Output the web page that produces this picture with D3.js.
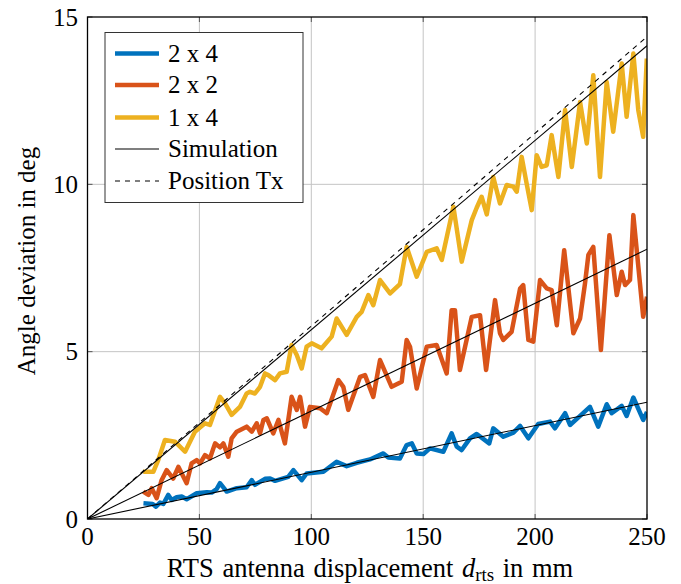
<!DOCTYPE html>
<html><head><meta charset="utf-8">
<script src="https://cdn.jsdelivr.net/npm/d3@7"></script>
<style>body{margin:0;background:#fff}</style>
</head><body><svg id="c" width="681" height="584" font-family="'Liberation Serif', 'DejaVu Serif', serif"></svg>
<script>
const xTicks=[0,50,100,150,200,250];
const yTicks=[0,5,10,15];
const seriesNames=["2 x 4","2 x 2","1 x 4"];
const seriesColors=["#0072BD","#D95319","#EDB120"];
const x24=[25,29.1,30.6,32.4,33.9,36.1,37.6,39.8,42.1,44.3,48.8,53.3,55.5,57.7,59.2,62.2,66.7,71.1,73.4,74.8,79.3,81.6,83.8,89.7,92.0,95.7,97.9,105.4,111.3,115.8,120.3,126.2,132.2,134.4,139.6,142.6,144.9,147.1,150.1,153.0,159.0,162.7,165.0,167.2,170.9,173.9,179.5,181.3,185.8,190.3,193.3,197.0,201.4,206.7,208.9,213.4,215.6,220.1,224.5,228.2,232.0,234.2,238.7,240.9,243.9,248.3,250];
const y24=[0.47,0.45,0.37,0.49,0.45,0.72,0.57,0.65,0.67,0.59,0.77,0.80,0.79,0.89,1.07,0.82,0.92,0.95,1.16,1.02,1.20,1.21,1.14,1.26,1.46,1.16,1.36,1.41,1.71,1.58,1.68,1.78,1.96,1.84,1.81,2.21,2.26,1.96,1.94,2.11,2.01,2.56,2.16,2.06,2.41,2.54,2.26,2.71,2.46,2.58,2.78,2.41,2.84,2.91,2.71,3.16,2.81,3.08,3.35,2.76,3.43,3.16,3.38,3.08,3.63,2.96,3.2];
const x22=[24.9,27.2,28.7,30.9,33.1,35.4,38.3,40.6,44.3,46.5,48.8,50.3,52.5,54.7,57.0,59.2,60.7,62.9,64.4,66.7,71.1,73.4,75.6,77.1,78.6,80.1,83.0,85.3,88.2,91.2,93.5,95.0,97.2,99.4,103.9,106.9,112.1,114.3,116.5,121.8,124.0,127.7,130.7,135.9,140.4,142.6,144.1,147.1,151.6,156.0,160.5,162.7,164.2,166.4,171.7,175.4,178.1,182.1,184.3,185.8,189.5,193.3,194.7,197.0,199.2,202.2,205.2,207.4,209.7,213.0,217.1,220.1,222.3,223.8,226.0,229.4,233.2,236.5,238.7,240.2,242.4,243.9,248.3,250];
const y22=[0.82,0.72,0.92,0.62,1.16,1.46,1.21,1.56,1.07,1.66,1.76,1.66,1.91,1.81,2.26,2.14,2.26,1.86,2.41,2.61,2.76,2.61,2.86,2.56,2.96,3.01,2.56,2.96,2.26,3.65,3.26,3.65,2.76,3.35,3.31,3.16,4.15,3.95,3.26,4.25,4.30,3.65,4.75,3.95,4.10,5.35,5.15,3.90,5.15,5.20,4.35,6.24,6.24,4.45,6.04,6.09,4.45,6.54,5.55,5.35,5.59,6.89,6.99,5.35,5.30,7.14,6.89,6.84,5.79,8.03,5.55,5.99,7.04,7.89,8.13,5.05,8.48,6.69,7.39,6.99,7.14,9.08,6.04,6.64];
const x14=[24.9,29.4,31.6,34.6,39.1,43.6,48.0,52.5,54.7,59.2,61.4,64.4,68.1,71.1,72.6,74.8,77.1,79.3,80.8,83.8,86.0,89.0,91.2,93.5,95.7,97.9,100.2,104.6,109.1,111.3,115.8,120.3,122.5,125.5,127.7,130.7,135.2,139.6,142.6,147.1,151.6,156.0,158.3,163.5,167.2,171.7,173.9,176.1,178.4,181.3,184.3,187.3,190.3,191.8,194.0,196.2,198.5,200.7,202.9,205.2,207.4,210.4,213.4,216.4,220.1,223.1,226.0,229.0,232.0,234.9,238.7,240.9,243.9,246.1,248.3,249.9];
const y14=[1.41,1.41,1.76,2.36,2.31,2.01,2.61,2.86,2.81,3.65,3.46,3.11,3.35,3.75,3.80,3.75,3.95,4.35,4.30,4.15,4.35,4.40,5.20,4.90,4.50,5.15,5.25,5.10,5.45,5.99,5.50,6.04,6.19,6.69,6.39,7.14,6.74,7.02,8.13,7.24,7.98,8.09,7.74,9.33,7.69,8.93,9.3,9.63,9.1,10.22,9.43,9.98,9.93,9.78,10.82,10.03,9.23,10.87,10.52,10.57,11.47,10.22,12.22,10.52,12.46,11.22,13.26,10.22,13.06,11.57,13.61,12.02,13.91,12.22,11.42,13.76];
const simX=[0,250];
const sim24=[0,3.49];
const sim22=[0,8.06];
const sim14=[0,14.14];
const posTx=[0,14.41];

const svg=d3.select("#c");
const FONT="'Liberation Serif', 'DejaVu Serif', serif";
const L=87.5,R=647,T=17,B=519;
const xs=d3.scaleLinear().domain([0,250]).range([L,R]);
const ys=d3.scaleLinear().domain([0,15]).range([B,T]);
const g=svg.append("g");
g.selectAll(".gx").data(xTicks.slice(1,-1)).enter().append("line").attr("x1",d=>xs(d)).attr("x2",d=>xs(d)).attr("y1",T).attr("y2",B).attr("stroke","#c4c4c4").attr("stroke-width",1);
g.selectAll(".gy").data(yTicks.slice(1,-1)).enter().append("line").attr("y1",d=>ys(d)).attr("y2",d=>ys(d)).attr("x1",L).attr("x2",R).attr("stroke","#c4c4c4").attr("stroke-width",1);
const tl=5;
xTicks.forEach(t=>{g.append("line").attr("x1",xs(t)).attr("x2",xs(t)).attr("y1",B).attr("y2",B-tl).attr("stroke","#555");g.append("line").attr("x1",xs(t)).attr("x2",xs(t)).attr("y1",T).attr("y2",T+tl).attr("stroke","#555");});
yTicks.forEach(t=>{g.append("line").attr("y1",ys(t)).attr("y2",ys(t)).attr("x1",L).attr("x2",L+tl).attr("stroke","#555");g.append("line").attr("y1",ys(t)).attr("y2",ys(t)).attr("x1",R).attr("x2",R-tl).attr("stroke","#555");});
svg.append("clipPath").attr("id","clip").append("rect").attr("x",L).attr("y",T).attr("width",R-L).attr("height",B-T);
const pg=svg.append("g").attr("clip-path","url(#clip)");
const line=d3.line().x(d=>xs(d[0])).y(d=>ys(d[1]));
const data=[[x24,y24],[x22,y22],[x14,y14]];
data.forEach((s,i)=>{
  pg.append("path").datum(s[0].map((v,j)=>[v,s[1][j]])).attr("d",line).attr("fill","none").attr("stroke",seriesColors[i]).attr("stroke-width",4.5).attr("stroke-linejoin","round");
});
[sim24,sim22,sim14].forEach(s=>{
  pg.append("path").datum(simX.map((v,j)=>[v,s[j]])).attr("d",line).attr("fill","none").attr("stroke","#000").attr("stroke-width",1.1);
});
pg.append("path").datum(simX.map((v,j)=>[v,posTx[j]])).attr("d",line).attr("fill","none").attr("stroke","#000").attr("stroke-width",1.1).attr("stroke-dasharray","5,5");
svg.append("rect").attr("x",L).attr("y",T).attr("width",R-L).attr("height",B-T).attr("fill","none").attr("stroke","#000").attr("stroke-width",1.3);
const fs=25;
xTicks.forEach(t=>svg.append("text").attr("font-family",FONT).attr("x",xs(t)).attr("y",545).attr("text-anchor","middle").attr("font-size",fs).text(t));
yTicks.forEach(t=>svg.append("text").attr("font-family",FONT).attr("x",78).attr("y",ys(t)+8.5).attr("text-anchor","end").attr("font-size",fs).text(t));
const xl=svg.append("text").attr("font-family",FONT).attr("x",370).attr("y",577).attr("text-anchor","middle").attr("font-size",26.5).attr("word-spacing",2);
xl.append("tspan").text("RTS antenna displacement ");
xl.append("tspan").attr("font-style","italic").text("d");
xl.append("tspan").attr("font-size",19).attr("dy",4).text("rts");
xl.append("tspan").attr("dy",-4).text(" in mm");
svg.append("text").attr("font-family",FONT).attr("transform","translate(35,261) rotate(-90)").attr("text-anchor","middle").attr("font-size",fs).text("Angle deviation in deg");
const lg=svg.append("g");
lg.append("rect").attr("x",105).attr("y",32.5).attr("width",198).attr("height",170).attr("fill","#fff").attr("stroke","#333").attr("stroke-width",1);
const rowsY=[53.5,85,117.5,149,181];
const legItems=[...seriesNames.map((n,i)=>({n,c:seriesColors[i],w:4.5,d:null})),{n:"Simulation",c:"#000",w:1.1,d:null},{n:"Position Tx",c:"#000",w:1.1,d:"5,5"}];
legItems.forEach((it,i)=>{
  lg.append("line").attr("x1",115).attr("x2",159).attr("y1",rowsY[i]).attr("y2",rowsY[i]).attr("stroke",it.c).attr("stroke-width",it.w).attr("stroke-dasharray",it.d);
  lg.append("text").attr("font-family",FONT).attr("x",168).attr("y",rowsY[i]+8.3).attr("font-size",fs).text(it.n);
});
</script></body></html>
